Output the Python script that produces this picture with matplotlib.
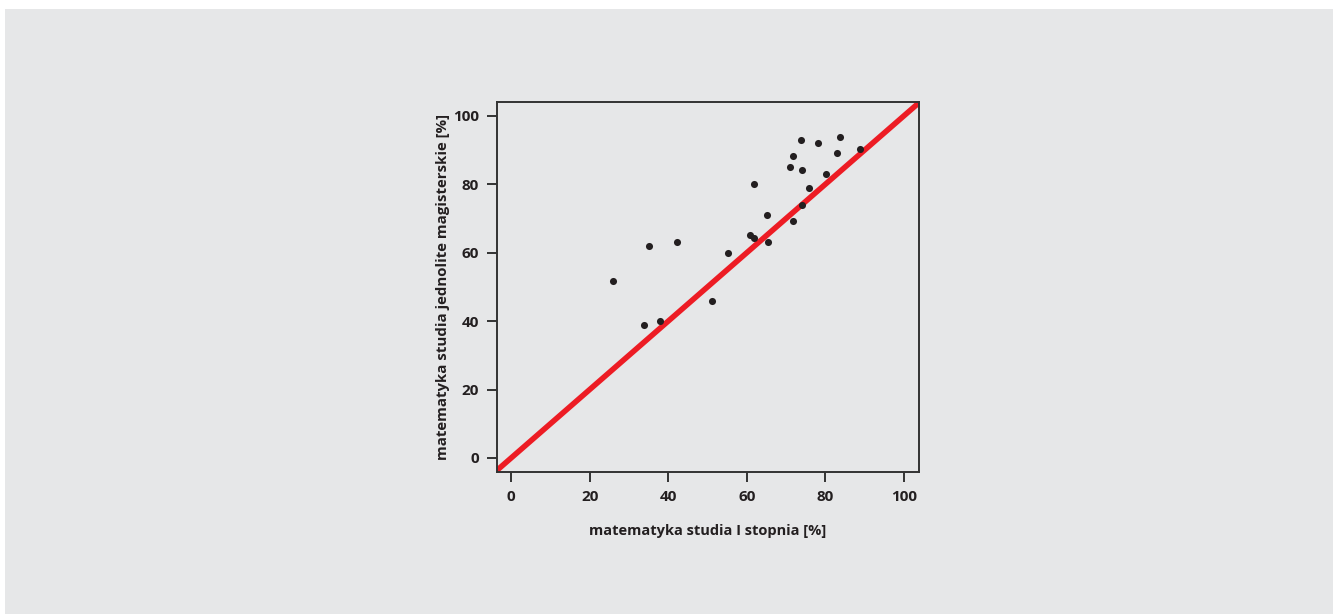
import matplotlib
matplotlib.use("Agg")
import matplotlib.pyplot as plt
from matplotlib.patches import Rectangle

# percentages: first-cycle studies (x) vs. long-cycle master's studies (y)
stopien_1 = [26.0, 33.9, 35.1, 38.0, 42.1, 51.1, 55.1, 60.9, 61.9, 61.9, 65.1, 65.3,
             70.9, 71.8, 71.8, 73.8, 73.9, 74.1, 75.8, 78.1, 80.1, 82.9, 83.8, 88.9]
jednolite = [51.8, 38.9, 61.9, 40.0, 63.0, 45.8, 60.0, 65.1, 64.3, 79.9, 71.0, 63.1,
             85.1, 88.1, 69.1, 93.0, 84.1, 74.0, 78.9, 92.1, 83.1, 89.2, 93.8, 90.3]
ticks = [0, 20, 40, 60, 80, 100]
line_ends = [-4, 105]

ink = "#231f20"
bg = "#e6e7e8"
plt.rcParams["font.family"] = ["Open Sans", "DejaVu Sans"]

W, H = 1333, 614
fig = plt.figure(figsize=(W / 100, H / 100), dpi=100)
fig.patch.set_facecolor("white")
fig.patches.append(Rectangle((5 / W, 0), 1 - 5 / W, 1 - 9 / H,
                             transform=fig.transFigure, facecolor=bg,
                             edgecolor="none", zorder=-10))

ax = fig.add_axes([497 / W, (H - 472) / H, (919 - 497) / W, (472 - 102) / H])
ax.set_facecolor(bg)

ax.plot(line_ends, line_ends, color="#ed1c24", lw=4.0, solid_capstyle="butt", zorder=2)
ax.scatter(stopien_1, jednolite, s=26, color=ink, zorder=3, linewidths=0)

ax.set_xlim(-3.6, 103.8)
ax.set_ylim(-4.1, 104.0)
ax.set_xticks(ticks)
ax.set_yticks(ticks)

for sp in ax.spines.values():
    sp.set_color("#333333")
    sp.set_linewidth(1.4)
ax.tick_params(length=7, width=1.4, color="#333333", labelcolor=ink,
               labelsize=11, pad=6)
for lbl in ax.get_xticklabels() + ax.get_yticklabels():
    lbl.set_fontweight("bold")

ax.set_xlabel("matematyka studia I stopnia [%]", fontsize=10.5, fontweight="bold",
              color=ink, labelpad=14)
ax.set_ylabel("matematyka studia jednolite magisterskie [%]", fontsize=10.8,
              fontweight="bold", color=ink, labelpad=2)

fig.savefig("out.png", dpi=100, facecolor=fig.get_facecolor())
